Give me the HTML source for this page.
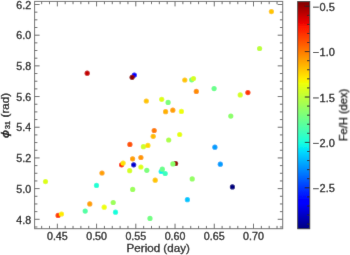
<!DOCTYPE html>
<html><head><meta charset="utf-8"><style>
html,body{margin:0;padding:0;background:#fff;}
body{width:350px;height:255px;overflow:hidden;}
svg{display:block;will-change:transform;font-family:"Liberation Sans",sans-serif;}
text{fill:#111;stroke:#111;stroke-width:0.3px;}
</style></head><body>
<svg width="350" height="255" viewBox="0 0 350 255">
<defs><filter id="bl" x="0" y="0" width="350" height="255" filterUnits="userSpaceOnUse"><feConvolveMatrix order="3" kernelMatrix="0.0052 0.0619 0.0052 0.0619 0.7314 0.0619 0.0052 0.0619 0.0052" edgeMode="duplicate"/></filter></defs><g filter="url(#bl)"><rect width="350" height="255" fill="#fff"/><defs><linearGradient id="cb" x1="0" y1="0" x2="0" y2="1"><stop offset="0.00" stop-color="#800000"/><stop offset="0.01" stop-color="#8b0000"/><stop offset="0.02" stop-color="#970000"/><stop offset="0.03" stop-color="#a20000"/><stop offset="0.04" stop-color="#ae0000"/><stop offset="0.05" stop-color="#b90000"/><stop offset="0.06" stop-color="#c50000"/><stop offset="0.07" stop-color="#d10000"/><stop offset="0.08" stop-color="#dc0000"/><stop offset="0.09" stop-color="#e80000"/><stop offset="0.10" stop-color="#f30900"/><stop offset="0.11" stop-color="#ff1300"/><stop offset="0.12" stop-color="#ff1c00"/><stop offset="0.13" stop-color="#ff2600"/><stop offset="0.14" stop-color="#ff2f00"/><stop offset="0.15" stop-color="#ff3900"/><stop offset="0.16" stop-color="#ff4200"/><stop offset="0.17" stop-color="#ff4c00"/><stop offset="0.18" stop-color="#ff5500"/><stop offset="0.19" stop-color="#ff5e00"/><stop offset="0.20" stop-color="#ff6800"/><stop offset="0.21" stop-color="#ff7100"/><stop offset="0.22" stop-color="#ff7b00"/><stop offset="0.23" stop-color="#ff8400"/><stop offset="0.24" stop-color="#ff8e00"/><stop offset="0.25" stop-color="#ff9700"/><stop offset="0.26" stop-color="#ffa100"/><stop offset="0.27" stop-color="#ffaa00"/><stop offset="0.28" stop-color="#ffb300"/><stop offset="0.29" stop-color="#ffbd00"/><stop offset="0.30" stop-color="#ffc600"/><stop offset="0.31" stop-color="#ffd000"/><stop offset="0.32" stop-color="#ffd900"/><stop offset="0.33" stop-color="#ffe300"/><stop offset="0.34" stop-color="#ffec00"/><stop offset="0.35" stop-color="#f7f600"/><stop offset="0.36" stop-color="#efff08"/><stop offset="0.37" stop-color="#e6ff10"/><stop offset="0.38" stop-color="#deff19"/><stop offset="0.39" stop-color="#d6ff21"/><stop offset="0.40" stop-color="#ceff29"/><stop offset="0.41" stop-color="#c5ff31"/><stop offset="0.42" stop-color="#bdff3a"/><stop offset="0.43" stop-color="#b5ff42"/><stop offset="0.44" stop-color="#adff4a"/><stop offset="0.45" stop-color="#a5ff52"/><stop offset="0.46" stop-color="#9cff5a"/><stop offset="0.47" stop-color="#94ff63"/><stop offset="0.48" stop-color="#8cff6b"/><stop offset="0.49" stop-color="#84ff73"/><stop offset="0.50" stop-color="#7bff7b"/><stop offset="0.51" stop-color="#73ff84"/><stop offset="0.52" stop-color="#6bff8c"/><stop offset="0.53" stop-color="#63ff94"/><stop offset="0.54" stop-color="#5aff9c"/><stop offset="0.55" stop-color="#52ffa5"/><stop offset="0.56" stop-color="#4affad"/><stop offset="0.57" stop-color="#42ffb5"/><stop offset="0.58" stop-color="#3affbd"/><stop offset="0.59" stop-color="#31ffc5"/><stop offset="0.60" stop-color="#29ffce"/><stop offset="0.61" stop-color="#21ffd6"/><stop offset="0.62" stop-color="#19ffde"/><stop offset="0.63" stop-color="#10fae6"/><stop offset="0.64" stop-color="#08f0ef"/><stop offset="0.65" stop-color="#00e5f7"/><stop offset="0.66" stop-color="#00dbff"/><stop offset="0.67" stop-color="#00d1ff"/><stop offset="0.68" stop-color="#00c7ff"/><stop offset="0.69" stop-color="#00bdff"/><stop offset="0.70" stop-color="#00b3ff"/><stop offset="0.71" stop-color="#00a8ff"/><stop offset="0.72" stop-color="#009eff"/><stop offset="0.73" stop-color="#0094ff"/><stop offset="0.74" stop-color="#008aff"/><stop offset="0.75" stop-color="#0080ff"/><stop offset="0.76" stop-color="#0075ff"/><stop offset="0.77" stop-color="#006bff"/><stop offset="0.78" stop-color="#0061ff"/><stop offset="0.79" stop-color="#0057ff"/><stop offset="0.80" stop-color="#004cff"/><stop offset="0.81" stop-color="#0042ff"/><stop offset="0.82" stop-color="#0038ff"/><stop offset="0.83" stop-color="#002eff"/><stop offset="0.84" stop-color="#0024ff"/><stop offset="0.85" stop-color="#001aff"/><stop offset="0.86" stop-color="#000fff"/><stop offset="0.87" stop-color="#0005ff"/><stop offset="0.88" stop-color="#0000ff"/><stop offset="0.89" stop-color="#0000ff"/><stop offset="0.90" stop-color="#0000f3"/><stop offset="0.91" stop-color="#0000e8"/><stop offset="0.92" stop-color="#0000dc"/><stop offset="0.93" stop-color="#0000d1"/><stop offset="0.94" stop-color="#0000c5"/><stop offset="0.95" stop-color="#0000b9"/><stop offset="0.96" stop-color="#0000ae"/><stop offset="0.97" stop-color="#0000a2"/><stop offset="0.98" stop-color="#000097"/><stop offset="0.99" stop-color="#00008b"/><stop offset="1.00" stop-color="#000080"/></linearGradient></defs>
<circle cx="271.4" cy="11.6" r="2.6" fill="#ffc600"/>
<circle cx="259.6" cy="48.5" r="2.6" fill="#bdff3a"/>
<circle cx="87.2" cy="73.2" r="2.6" fill="#c50000"/>
<circle cx="134.3" cy="75.1" r="2.6" fill="#0000ff"/>
<circle cx="132.1" cy="77.3" r="2.6" fill="#8b0000"/>
<circle cx="184.8" cy="80.0" r="2.6" fill="#ffc600"/>
<circle cx="191.7" cy="79.8" r="2.6" fill="#7bff7b"/>
<circle cx="193.5" cy="78.6" r="2.6" fill="#d6ff21"/>
<circle cx="196.3" cy="91.4" r="2.6" fill="#ff8e00"/>
<circle cx="214.1" cy="88.6" r="2.6" fill="#6bff8c"/>
<circle cx="240.2" cy="94.9" r="2.6" fill="#d6ff21"/>
<circle cx="247.9" cy="92.6" r="2.6" fill="#ff3900"/>
<circle cx="230.8" cy="116.1" r="2.6" fill="#8cff6b"/>
<circle cx="146.3" cy="101.0" r="2.6" fill="#ffc600"/>
<circle cx="161.7" cy="99.3" r="2.6" fill="#deff19"/>
<circle cx="168.1" cy="102.4" r="2.6" fill="#7bff7b"/>
<circle cx="165.6" cy="111.7" r="2.6" fill="#ffb300"/>
<circle cx="172.8" cy="110.2" r="2.6" fill="#ffa100"/>
<circle cx="181.4" cy="111.4" r="2.6" fill="#efff08"/>
<circle cx="154.2" cy="130.5" r="2.6" fill="#ff7b00"/>
<circle cx="153.2" cy="136.3" r="2.6" fill="#ffbd00"/>
<circle cx="179.7" cy="134.5" r="2.6" fill="#e6ff10"/>
<circle cx="168.7" cy="140.0" r="2.6" fill="#adff4a"/>
<circle cx="129.9" cy="144.4" r="2.6" fill="#ff5500"/>
<circle cx="143.4" cy="146.7" r="2.6" fill="#ceff29"/>
<circle cx="147.9" cy="145.4" r="2.6" fill="#ffd900"/>
<circle cx="132.6" cy="158.8" r="2.6" fill="#ffa100"/>
<circle cx="140.9" cy="157.5" r="2.6" fill="#ff9700"/>
<circle cx="121.6" cy="164.8" r="2.6" fill="#ff2f00"/>
<circle cx="123.1" cy="163.1" r="2.6" fill="#ffe300"/>
<circle cx="133.7" cy="164.8" r="2.6" fill="#0000d1"/>
<circle cx="140.9" cy="167.0" r="2.6" fill="#deff19"/>
<circle cx="129.7" cy="170.7" r="2.6" fill="#d6ff21"/>
<circle cx="146.8" cy="170.3" r="2.6" fill="#7bff7b"/>
<circle cx="175.6" cy="163.5" r="2.6" fill="#970000"/>
<circle cx="172.9" cy="163.9" r="2.6" fill="#8cff6b"/>
<circle cx="161.2" cy="171.5" r="2.6" fill="#08f0ef"/>
<circle cx="162.3" cy="169.2" r="2.6" fill="#6bff8c"/>
<circle cx="165.2" cy="173.5" r="2.6" fill="#3affbd"/>
<circle cx="155.2" cy="180.2" r="2.6" fill="#ffc600"/>
<circle cx="192.2" cy="178.9" r="2.6" fill="#94ff63"/>
<circle cx="187.4" cy="199.7" r="2.6" fill="#00c7ff"/>
<circle cx="150.0" cy="218.4" r="2.6" fill="#73ff84"/>
<circle cx="214.9" cy="147.2" r="2.6" fill="#009eff"/>
<circle cx="220.3" cy="164.2" r="2.6" fill="#009eff"/>
<circle cx="232.4" cy="186.9" r="2.6" fill="#000080"/>
<circle cx="45.5" cy="181.6" r="2.6" fill="#deff19"/>
<circle cx="58.1" cy="215.4" r="2.6" fill="#ff4200"/>
<circle cx="61.5" cy="214.0" r="2.6" fill="#ffec00"/>
<circle cx="85.2" cy="211.1" r="2.6" fill="#52ffa5"/>
<circle cx="89.8" cy="203.9" r="2.6" fill="#ffa100"/>
<circle cx="96.5" cy="185.4" r="2.6" fill="#21ffd6"/>
<circle cx="102.0" cy="173.0" r="2.6" fill="#ffa100"/>
<circle cx="104.2" cy="207.2" r="2.6" fill="#efff08"/>
<circle cx="113.2" cy="202.5" r="2.6" fill="#9cff5a"/>
<circle cx="115.5" cy="212.2" r="2.6" fill="#19ffde"/>
<circle cx="132.7" cy="189.4" r="2.6" fill="#9cff5a"/>
<path d="M41.66 228.7v-2.8M41.66 1.4v2.8M49.50 228.7v-2.8M49.50 1.4v2.8M57.35 228.7v-5.0M57.35 1.4v5.0M65.20 228.7v-2.8M65.20 1.4v2.8M73.04 228.7v-2.8M73.04 1.4v2.8M80.89 228.7v-2.8M80.89 1.4v2.8M88.73 228.7v-2.8M88.73 1.4v2.8M96.58 228.7v-5.0M96.58 1.4v5.0M104.43 228.7v-2.8M104.43 1.4v2.8M112.27 228.7v-2.8M112.27 1.4v2.8M120.12 228.7v-2.8M120.12 1.4v2.8M127.96 228.7v-2.8M127.96 1.4v2.8M135.81 228.7v-5.0M135.81 1.4v5.0M143.66 228.7v-2.8M143.66 1.4v2.8M151.50 228.7v-2.8M151.50 1.4v2.8M159.35 228.7v-2.8M159.35 1.4v2.8M167.19 228.7v-2.8M167.19 1.4v2.8M175.04 228.7v-5.0M175.04 1.4v5.0M182.89 228.7v-2.8M182.89 1.4v2.8M190.73 228.7v-2.8M190.73 1.4v2.8M198.58 228.7v-2.8M198.58 1.4v2.8M206.42 228.7v-2.8M206.42 1.4v2.8M214.27 228.7v-5.0M214.27 1.4v5.0M222.12 228.7v-2.8M222.12 1.4v2.8M229.96 228.7v-2.8M229.96 1.4v2.8M237.81 228.7v-2.8M237.81 1.4v2.8M245.65 228.7v-2.8M245.65 1.4v2.8M253.50 228.7v-5.0M253.50 1.4v5.0M261.35 228.7v-2.8M261.35 1.4v2.8M269.19 228.7v-2.8M269.19 1.4v2.8M277.04 228.7v-2.8M277.04 1.4v2.8M34.6 226.97h2.8M282.7 226.97h-2.8M34.6 219.30h5.0M282.7 219.30h-5.0M34.6 211.63h2.8M282.7 211.63h-2.8M34.6 203.96h2.8M282.7 203.96h-2.8M34.6 196.29h2.8M282.7 196.29h-2.8M34.6 188.62h5.0M282.7 188.62h-5.0M34.6 180.94h2.8M282.7 180.94h-2.8M34.6 173.27h2.8M282.7 173.27h-2.8M34.6 165.60h2.8M282.7 165.60h-2.8M34.6 157.93h5.0M282.7 157.93h-5.0M34.6 150.26h2.8M282.7 150.26h-2.8M34.6 142.59h2.8M282.7 142.59h-2.8M34.6 134.92h2.8M282.7 134.92h-2.8M34.6 127.24h5.0M282.7 127.24h-5.0M34.6 119.57h2.8M282.7 119.57h-2.8M34.6 111.90h2.8M282.7 111.90h-2.8M34.6 104.23h2.8M282.7 104.23h-2.8M34.6 96.56h5.0M282.7 96.56h-5.0M34.6 88.89h2.8M282.7 88.89h-2.8M34.6 81.22h2.8M282.7 81.22h-2.8M34.6 73.54h2.8M282.7 73.54h-2.8M34.6 65.87h5.0M282.7 65.87h-5.0M34.6 58.20h2.8M282.7 58.20h-2.8M34.6 50.53h2.8M282.7 50.53h-2.8M34.6 42.86h2.8M282.7 42.86h-2.8M34.6 35.19h5.0M282.7 35.19h-5.0M34.6 27.51h2.8M282.7 27.51h-2.8M34.6 19.84h2.8M282.7 19.84h-2.8M34.6 12.17h2.8M282.7 12.17h-2.8M34.6 4.50h5.0M282.7 4.50h-5.0" stroke="#666" stroke-width="1" fill="none"/>
<rect x="34.6" y="1.4" width="248.10" height="227.30" stroke="#6a6a6a" stroke-width="1.0" fill="none"/>
<rect x="297.7" y="1.5" width="12.10" height="227.30" fill="url(#cb)" stroke="#222" stroke-width="0.8"/>
<path d="M309.80 6.20h-5.0M309.80 15.28h-2.8M309.80 24.36h-2.8M309.80 33.44h-2.8M309.80 42.52h-2.8M309.80 51.60h-5.0M309.80 60.68h-2.8M309.80 69.76h-2.8M309.80 78.84h-2.8M309.80 87.92h-2.8M309.80 97.00h-5.0M309.80 106.08h-2.8M309.80 115.16h-2.8M309.80 124.24h-2.8M309.80 133.32h-2.8M309.80 142.40h-5.0M309.80 151.48h-2.8M309.80 160.56h-2.8M309.80 169.64h-2.8M309.80 178.72h-2.8M309.80 187.80h-5.0M309.80 196.88h-2.8M309.80 205.96h-2.8M309.80 215.04h-2.8M309.80 224.12h-2.8" stroke="#222" stroke-width="1" fill="none"/>
<text x="0" y="0" transform="translate(57.35 239.6) scale(1.07 1)" text-anchor="middle" font-size="10.0">0.45</text>
<text x="0" y="0" transform="translate(96.58 239.6) scale(1.07 1)" text-anchor="middle" font-size="10.0">0.50</text>
<text x="0" y="0" transform="translate(135.81 239.6) scale(1.07 1)" text-anchor="middle" font-size="10.0">0.55</text>
<text x="0" y="0" transform="translate(175.04 239.6) scale(1.07 1)" text-anchor="middle" font-size="10.0">0.60</text>
<text x="0" y="0" transform="translate(214.27 239.6) scale(1.07 1)" text-anchor="middle" font-size="10.0">0.65</text>
<text x="0" y="0" transform="translate(253.50 239.6) scale(1.07 1)" text-anchor="middle" font-size="10.0">0.70</text>
<text x="0" y="0" transform="translate(31.1 223.50) scale(1.07 1)" text-anchor="end" font-size="10.0">4.8</text>
<text x="0" y="0" transform="translate(31.1 192.82) scale(1.07 1)" text-anchor="end" font-size="10.0">5.0</text>
<text x="0" y="0" transform="translate(31.1 162.13) scale(1.07 1)" text-anchor="end" font-size="10.0">5.2</text>
<text x="0" y="0" transform="translate(31.1 131.44) scale(1.07 1)" text-anchor="end" font-size="10.0">5.4</text>
<text x="0" y="0" transform="translate(31.1 100.76) scale(1.07 1)" text-anchor="end" font-size="10.0">5.6</text>
<text x="0" y="0" transform="translate(31.1 70.07) scale(1.07 1)" text-anchor="end" font-size="10.0">5.8</text>
<text x="0" y="0" transform="translate(31.1 39.39) scale(1.07 1)" text-anchor="end" font-size="10.0">6.0</text>
<text x="0" y="0" transform="translate(31.1 8.70) scale(1.07 1)" text-anchor="end" font-size="10.0">6.2</text>
<rect x="313" y="6.70" width="5.8" height="0.9" fill="#222"/>
<text x="0" y="0" transform="translate(319.6 10.70) scale(1.1 1)" text-anchor="start" font-size="10.0">0.5</text>
<rect x="313" y="52.10" width="5.8" height="0.9" fill="#222"/>
<text x="0" y="0" transform="translate(319.6 56.10) scale(1.1 1)" text-anchor="start" font-size="10.0">1.0</text>
<rect x="313" y="97.50" width="5.8" height="0.9" fill="#222"/>
<text x="0" y="0" transform="translate(319.6 101.50) scale(1.1 1)" text-anchor="start" font-size="10.0">1.5</text>
<rect x="313" y="142.90" width="5.8" height="0.9" fill="#222"/>
<text x="0" y="0" transform="translate(319.6 146.90) scale(1.1 1)" text-anchor="start" font-size="10.0">2.0</text>
<rect x="313" y="188.30" width="5.8" height="0.9" fill="#222"/>
<text x="0" y="0" transform="translate(319.6 192.30) scale(1.1 1)" text-anchor="start" font-size="10.0">2.5</text>
<text x="0" y="0" transform="translate(158.2 251.5) scale(1.15 1)" text-anchor="middle" font-size="10.1" style="stroke-width:0.28px">Period (day)</text>
<text x="0" y="0" transform="translate(347.2 115.0) rotate(-90) scale(1.1 1)" text-anchor="middle" font-size="10.1" style="stroke-width:0.28px">Fe/H (dex)</text>
<text x="0" y="0" transform="translate(9.4 137.9) rotate(-90) scale(1.3 1)" font-size="11" font-style="italic" style="stroke-width:0.45px">ϕ</text>
<text x="0" y="0" transform="translate(10.0 128.9) rotate(-90) scale(1.05 1)" font-size="6.8" style="stroke-width:0.35px">31</text>
<text x="0" y="0" transform="translate(8.9 117.4) rotate(-90) scale(1.16 1)" font-size="10" style="stroke-width:0.28px">(rad)</text></g>
</svg>
</body></html>
